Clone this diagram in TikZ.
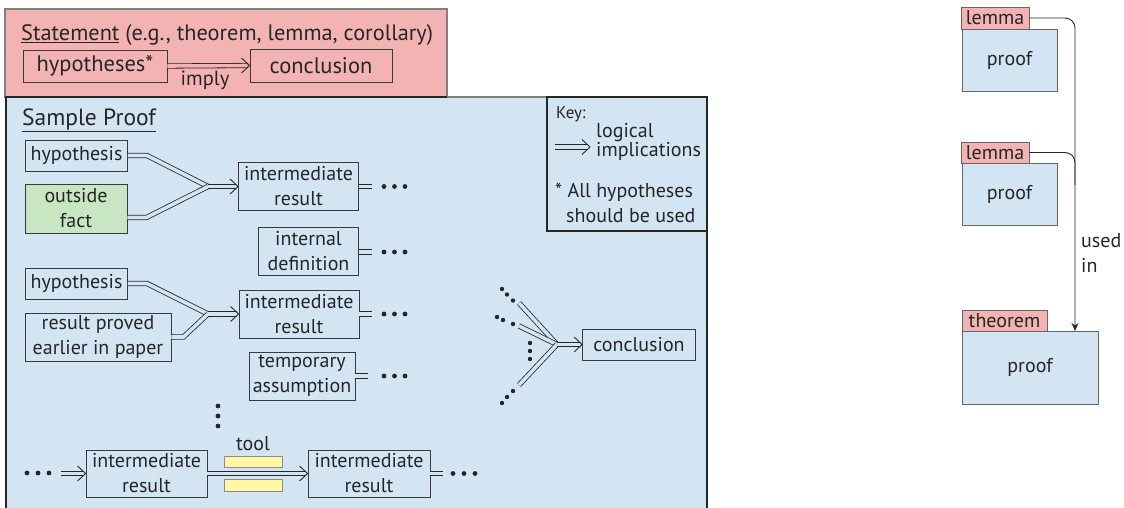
\documentclass[tikz,border=0pt]{standalone}
\usepackage{fontspec}
\setmainfont{PT Sans}
\usetikzlibrary{arrows.meta}
\definecolor{pinkfill}{HTML}{F4B3B3}
\definecolor{bluefill}{HTML}{D3E4F2}
\definecolor{greenfill}{HTML}{C9E6C3}
\definecolor{yellowfill}{HTML}{FFF6A6}
\definecolor{edge}{HTML}{3A3A3A}
\definecolor{ink}{HTML}{262626}
\newcommand\impchev[1]{\draw[chev] ([xshift=-8pt,yshift=-7.5pt]#1) -- (#1) -- ([xshift=-8pt,yshift=7.5pt]#1);}
\begin{document}
\begin{tikzpicture}[x=1pt,y=-1pt,
  txt/.style={font=\fontsize{20}{25}\selectfont, text=ink, inner sep=0pt},
  big/.style={font=\fontsize{22.5}{27}\selectfont},
  box/.style 2 args={draw=edge, line width=0.9pt, inner sep=0pt, align=center,
    font=\fontsize{20}{25}\selectfont, text=ink, minimum width=#1, minimum height=#2},
  tab/.style 2 args={box={#1}{#2}, draw=black!60, fill=pinkfill},
  pf/.style 2 args={box={#1}{#2}, draw=black!60, fill=bluefill},
  dbl/.style={draw=ink, line width=0.8pt, double=bluefill, double distance=3.6pt},
  imp/.style={dbl, shorten >=2pt},
  chev/.style={draw=ink, line width=0.9pt, line join=miter},
  dotf/.style={fill=ink},
  link/.style={draw=ink, line width=0.9pt, rounded corners=10pt},
]
\useasboundingbox (0,0) rectangle (1124,508);
% Statement
\draw[fill=pinkfill, draw=black!50, line width=1.5pt] (5,9) rectangle (447,97);
\node[txt, font=\fontsize{22.3}{27}\selectfont, anchor=base west] (stitle) at (21,41) {\underline{Statement} (e.g., theorem, lemma, corollary)};
\node[box={144pt}{32pt}, big] (hyps) at (95,66) {hypotheses*};
\node[box={142pt}{33pt}, big] (sconc) at (321,65.5) {conclusion};
\draw[imp, double=pinkfill] (hyps.east) -- (sconc.west);
\impchev{sconc.west}
\node[txt, font=\fontsize{20.5}{25}\selectfont] (imply) at (205,80) {imply};
% Sample proof frame
\draw[fill=bluefill, draw=ink, line width=2pt] (6,97) rectangle (707,530);
\draw[draw=black!50, line width=2pt] (447,97) -- (547,97);
\node[txt, font=\fontsize{23.5}{27}\selectfont, anchor=base west] (ptitle) at (22,125) {\underline{Sample Proof}};
% Key
\draw[draw=ink, line width=2pt] (547,97) rectangle (707,231);
\node[txt, font=\fontsize{17}{20}\selectfont, anchor=base west] (key) at (556,119) {Key:};
\coordinate (k1) at (555,147);
\coordinate (k2) at (590,147);
\draw[imp] (k1) -- (k2);
\impchev{k2}
\node[txt, font=\fontsize{20}{17}\selectfont, anchor=base west, align=left] (logic) at (596,157) {logical\\implications};
\node[txt, font=\fontsize{20}{25}\selectfont, anchor=base west, align=left] (allh) at (555,222) {* All hypotheses\\\hspace*{0.55em}should be used};
% Nodes
\node[box={102pt}{31pt}] (h1) at (76.5,155.5) {hypothesis};
\node[box={102pt}{49pt}, fill=greenfill] (of) at (76,208.5) {outside\\fact};
\node[box={120pt}{48pt}] (ir1) at (298.5,186.5) {intermediate\\result};
\node[box={100pt}{48pt}] (idef) at (308.5,251) {internal\\definition};
\node[box={102pt}{31pt}] (h2) at (76.5,283.5) {hypothesis};
\node[box={146pt}{48pt}] (rp) at (98,337) {result proved\\earlier in paper};
\node[box={120pt}{48pt}] (ir2) at (299,314) {intermediate\\result};
\node[box={106pt}{48pt}] (ta) at (302,376) {temporary\\assumption};
\node[box={121pt}{47pt}] (ir3) at (146.5,473.5) {intermediate\\result};
\node[box={122pt}{47pt}] (ir4) at (369,473.5) {intermediate\\result};
\node[box={113pt}{31pt}] (pconc) at (639,344.5) {conclusion};
% first merge
\coordinate (j1) at (208,186.5);
\draw[dbl] (h1.east) -- ++(19,0) -- (j1);
\draw[dbl] ([yshift=-9pt]of.east) -- ++(19,0) -- (j1);
\draw[imp] (j1) -- (ir1.west);
\impchev{ir1.west}
% second merge
\coordinate (j2) at (208,314);
\draw[dbl] (h2.east) -- ++(19,0) -- (j2);
\draw[dbl] (rp.east) -- ++(12,0) -- (j2);
\draw[imp] (j2) -- (ir2.west);
\impchev{ir2.west}
% continuation marks
\foreach \n/\y in {ir1/186.5, idef/252, ir2/314, ta/376}{
  \draw[dbl] (\n.east |- 0,\y) -- ++(13,0);
  \foreach \x in {384,394.5,405} \fill[dotf] (\x,\y) circle (2.4pt);
}
% vertical dots
\foreach \y in {406,416,426} \fill[dotf] (218,\y) circle (2.4pt);
% bottom row
\foreach \x in {27,38,49} \fill[dotf] (\x,473) circle (2.4pt);
\coordinate (lstart) at (61,473.5);
\draw[imp] (lstart) -- (ir3.west);
\impchev{ir3.west}
\node[box={58pt}{11pt}, fill=yellowfill, draw=black!45, line width=0.6pt] (ytop) at (253,461.5) {};
\node[box={58pt}{12pt}, fill=yellowfill, draw=black!45, line width=0.6pt] (ybot) at (253,485) {};
\node[txt] (tool) at (253,444) {tool};
\draw[imp] (ir3.east) -- (ir4.west);
\impchev{ir4.west}
\draw[dbl] (ir4.east) -- ++(13,0);
\foreach \x in {453,464,475} \fill[dotf] (\x,473.5) circle (2.4pt);
% conclusion merge
\coordinate (j3) at (557,344.5);
\coordinate (c1) at (519,303);
\coordinate (c2) at (519,326);
\coordinate (c3) at (519,385);
\draw[dbl] (c1) -- (j3);
\draw[dbl] (c2) -- (j3);
\draw[dbl] (c3) -- (j3);
\draw[imp] (j3) -- (pconc.west);
\impchev{pconc.west}
\foreach \p in {(502,289),(507,294.5),(513,300.5),(497,317),(503,320),(513,324),(530,343),(530,351),(530,359),(513,391),(507,397),(502,403)} \fill[dotf] \p circle (2.2pt);
% right side
\node[tab={68pt}{22pt}] (l1) at (995,18) {lemma};
\node[pf={95pt}{62pt}] (p1) at (1009.5,60) {proof};
\node[tab={68pt}{21pt}] (l2) at (995,152.5) {lemma};
\node[pf={95pt}{62pt}] (p2) at (1009.5,194) {proof};
\node[tab={85pt}{21pt}] (t3) at (1004.5,320.5) {theorem};
\node[pf={136pt}{73pt}] (p3) at (1030,367.5) {proof};
\coordinate (tip) at (1075,331);
\coordinate (merge) at (1075,185);
\draw[link, -{Stealth[length=8pt,width=7pt]}] (l1.east) -| (tip);
\draw[link] (l2.east) -| (merge);
\node[txt, anchor=base west, align=left] (used) at (1081,272) {used\\in};
\end{tikzpicture}
\end{document}
